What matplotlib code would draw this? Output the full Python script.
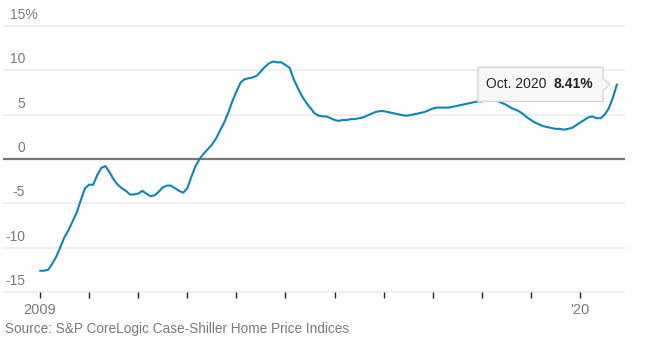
import numpy as np
import matplotlib
matplotlib.use('Agg')
import matplotlib.pyplot as plt
from matplotlib.patches import Polygon

plt.rcParams['font.family'] = ['Liberation Sans', 'DejaVu Sans']

# Year-over-year change in home prices, monthly from Jan 2009 to Oct 2020 (percent)
values = [
    -12.6, -12.6, -12.5, -11.8, -11.0, -9.9, -8.8, -8.0, -7.0, -6.0, -4.6, -3.3,   # 2009
    -2.9, -2.9, -1.8, -1.0, -0.8, -1.5, -2.3, -2.9, -3.3, -3.6, -4.0, -4.0,        # 2010
    -3.9, -3.6, -3.9, -4.2, -4.1, -3.7, -3.2, -3.0, -3.0, -3.3, -3.6, -3.8,        # 2011
    -3.3, -2.0, -0.8, 0.0, 0.6, 1.1, 1.6, 2.3, 3.2, 4.1, 5.2, 6.5,                 # 2012
    7.6, 8.6, 9.0, 9.1, 9.2, 9.4, 9.9, 10.4, 10.8, 11.0, 10.9, 10.9,               # 2013
    10.6, 10.3, 9.0, 8.0, 7.1, 6.4, 5.8, 5.2, 4.9, 4.8, 4.8, 4.6,                  # 2014
    4.4, 4.3, 4.4, 4.4, 4.5, 4.5, 4.6, 4.7, 4.9, 5.1, 5.3, 5.4,                    # 2015
    5.4, 5.3, 5.2, 5.1, 5.0, 4.9, 4.9, 5.0, 5.1, 5.2, 5.3, 5.5,                    # 2016
    5.7, 5.8, 5.8, 5.8, 5.8, 5.9, 6.0, 6.1, 6.2, 6.3, 6.4, 6.5,                    # 2017
    6.5, 6.6, 6.6, 6.6, 6.5, 6.3, 6.1, 5.8, 5.6, 5.4, 5.1, 4.7,                    # 2018
    4.4, 4.1, 3.9, 3.7, 3.6, 3.5, 3.4, 3.4, 3.3, 3.4, 3.5, 3.8,                    # 2019
    4.1, 4.4, 4.7, 4.8, 4.6, 4.6, 5.0, 5.7, 6.9, 8.41,                             # 2020
]
start_year = 2009
y_ticks = [15, 10, 5, 0, -5, -10, -15]
x_ticks = list(range(2009, 2021))
x_tick_labels = {2009: '2009', 2020: "'20"}
tooltip_label = 'Oct. 2020'
tooltip_value = '8.41%'
source = 'Source: S&P CoreLogic Case-Shiller Home Price Indices'

x = start_year + np.arange(len(values)) / 12

W, H = 650, 364
fig = plt.figure(figsize=(W / 100, H / 100), dpi=100)
ax = fig.add_axes([4 / W, 1 - 292 / H, 620 / W, 266 / H])

line_color = '#0b86b3'
grid_color = '#efefef'
text_grey = '#7a7a7a'

for t in y_ticks:
    if t == 0:
        ax.axhline(t, color='#777777', lw=1.6, zorder=2, clip_on=False)
    else:
        ax.axhline(t, color=grid_color, lw=1.6, zorder=1, clip_on=False)
    if t == 15:
        ax.annotate(f'{t}%', xy=(6 / 620, t), xycoords=('axes fraction', 'data'),
                    xytext=(0, 3), textcoords='offset points',
                    ha='left', va='bottom', fontsize=10, color=text_grey)
    else:
        ax.annotate(f'{t}', xy=(21 / 620, t), xycoords=('axes fraction', 'data'),
                    xytext=(0, 3), textcoords='offset points',
                    ha='right', va='bottom', fontsize=10, color=text_grey)

ax.plot(x, values, color=line_color, lw=1.5, zorder=3, solid_capstyle='round')

x_left = 2009 - 36 / 49.1
x_right = 2009 + 584 / 49.1
ax.set_xlim(x_left, x_right)
ax.set_ylim(-15, 15)

ax.set_xticks(x_ticks)
ax.set_xticklabels([x_tick_labels.get(t, '') for t in x_ticks])
ax.tick_params(axis='x', length=4, width=1, color='#222222', pad=4,
               labelsize=10.5, labelcolor=text_grey)
ax.set_yticks([])
for s in ax.spines.values():
    s.set_visible(False)

# tooltip at the last point
fig.canvas.draw()
px, py = ax.transData.transform((x[-1], values[-1]))
bx1 = px - 14
bx0 = bx1 - 125
by0 = py - 17
by1 = py + 17
pts = [(bx0, by0), (bx1, by0), (bx1, py - 6), (bx1 + 7, py), (bx1, py + 6),
       (bx1, by1), (bx0, by1)]
pts = [fig.transFigure.inverted().transform(p) for p in pts]
fig.patches.append(Polygon(pts, closed=True, facecolor='#f8f8f8',
                           edgecolor='#d6d6d6', lw=1,
                           transform=fig.transFigure, zorder=5))
cx, cy = fig.transFigure.inverted().transform((bx0 + 8, py))
fig.text(cx, cy, tooltip_label, ha='left', va='center', fontsize=10,
         color='#222222', zorder=6)
vx, vy = fig.transFigure.inverted().transform((bx1 - 10, py))
fig.text(vx, vy, tooltip_value, ha='right', va='center', fontsize=10,
         fontweight='bold', color='#222222', zorder=6)

fig.text(5 / W, 1 - 329 / H, source, ha='left', va='center',
         fontsize=9.8, color=text_grey)

fig.savefig('out.png', dpi=100)
